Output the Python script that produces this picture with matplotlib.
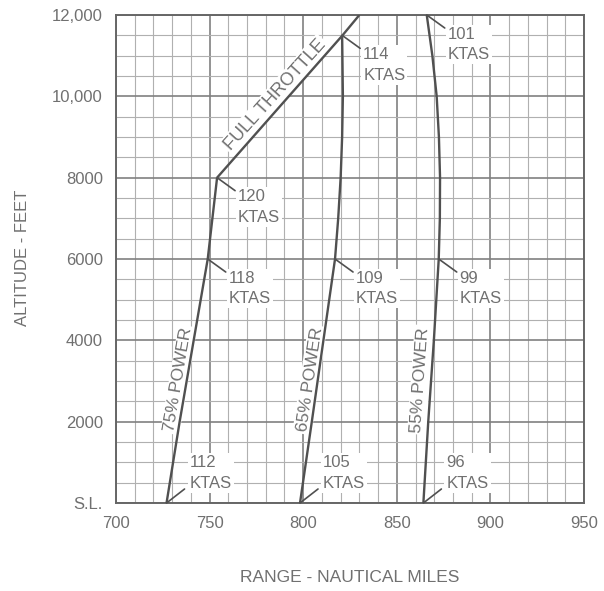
import numpy as np
import matplotlib.pyplot as plt

# range (nm) vs altitude (ft)
alt_75 = [0, 2000, 4000, 6000, 8000]
rng_75 = [727, 734, 741.5, 749, 754]

alt_ft = [8000, 11500, 12000]
rng_ft = [754, 821, 830]

alt_65 = [0, 2000, 4000, 6000, 7000, 8000, 9000, 10000, 11500]
rng_65 = [798.3, 804.6, 810.8, 817, 818.7, 820, 820.8, 821.2, 820.8]

alt_55 = [0, 2000, 4000, 6000, 7000, 8000, 9000, 10000, 11000, 12000]
rng_55 = [864.2, 866.8, 869.8, 872.4, 873, 873.1, 872.5, 871.3, 869, 866]

# speed labels: (range, altitude, text, placement)
speed_labels = [
    (754, 8000, '120\nKTAS', 'top'),
    (749, 6000, '118\nKTAS', 'top'),
    (727, 0, '112\nKTAS', 'bottom'),
    (820.8, 11500, '114\nKTAS', 'top'),
    (817, 6000, '109\nKTAS', 'top'),
    (798.3, 0, '105\nKTAS', 'bottom'),
    (866, 12000, '101\nKTAS', 'top'),
    (872.4, 6000, '99\nKTAS', 'top'),
    (864.2, 0, '96\nKTAS', 'bottom'),
]

curve_labels = [
    (785.2, 10030, 'FULL THROTTLE', 48.0, 13),
    (733.5, 3030, '75% POWER', 80.4, 12.5),
    (803.5, 3030, '65% POWER', 81.6, 12.5),
    (862.6, 3030, '55% POWER', 86.0, 12.5),
]

x_ticks = [700, 750, 800, 850, 900, 950]
y_ticks = [0, 2000, 4000, 6000, 8000, 10000, 12000]
y_tick_labels = ['S.L.', '2000', '4000', '6000', '8000', '10,000', '12,000']

txt_col = '#707070'
line_col = '#505050'
plt.rcParams['font.family'] = ['Liberation Sans', 'DejaVu Sans']

fig = plt.figure(figsize=(6.04, 5.91), dpi=100)
ax = fig.add_axes([116 / 604, 1 - 503 / 591, 468 / 604, 488 / 591])
ax.set_xlim(700, 950)
ax.set_ylim(0, 12000)

# graph paper grid
ax.set_xticks(np.arange(700, 951, 10), minor=True)
ax.set_yticks(np.arange(0, 12001, 500), minor=True)
ax.set_xticks(x_ticks)
ax.set_yticks(y_ticks)
ax.set_xticklabels(x_ticks)
ax.set_yticklabels(y_tick_labels)
ax.grid(which='minor', color='#b0b0b0', lw=0.8)
ax.grid(which='major', color='#808080', lw=1.2)
ax.tick_params(which='both', length=0, labelsize=12, labelcolor=txt_col)
ax.tick_params(axis='x', pad=9.5)
ax.tick_params(axis='y', pad=9.5)
for s in ax.spines.values():
    s.set_color('#666666')
    s.set_linewidth(1.4)
ax.set_axisbelow(True)

# power curves drawn above the white label boxes
for xs, ys in [(rng_75, alt_75), (rng_ft, alt_ft), (rng_65, alt_65), (rng_55, alt_55)]:
    ax.plot(xs, ys, color=line_col, lw=1.7, solid_capstyle='butt', zorder=6)

box = dict(boxstyle='square,pad=0.12', fc='white', ec='none')
for x, y, t, where in speed_labels:
    if where == 'top':
        lead = (18, -13)
        pos = (21, -29.5)
    else:
        lead = (18, 14)
        pos = (23, 30)
    ax.annotate(t, xy=(x, y), xytext=pos, textcoords='offset pixels',
                ha='left', va='center', fontsize=12, color=txt_col,
                linespacing=1.45, bbox=box, zorder=5)
    ax.annotate('', xy=(x, y), xytext=lead, textcoords='offset pixels',
                arrowprops=dict(arrowstyle='-', color=line_col, lw=1.2,
                                shrinkA=0, shrinkB=0), zorder=6)

for x, y, t, rot, fs in curve_labels:
    ax.text(x, y, t, rotation=rot, ha='center', va='center', fontsize=fs,
            color=txt_col, rotation_mode='anchor', bbox=box, zorder=5)

fig.text(23 / 604, 1 - 258 / 591, 'ALTITUDE - FEET', rotation=90, ha='center',
         va='center', fontsize=12, color=txt_col)
fig.text(350 / 604, 1 - 577 / 591, 'RANGE - NAUTICAL MILES', ha='center',
         va='center', fontsize=12.5, color=txt_col)

fig.savefig('out.png', dpi=100)
